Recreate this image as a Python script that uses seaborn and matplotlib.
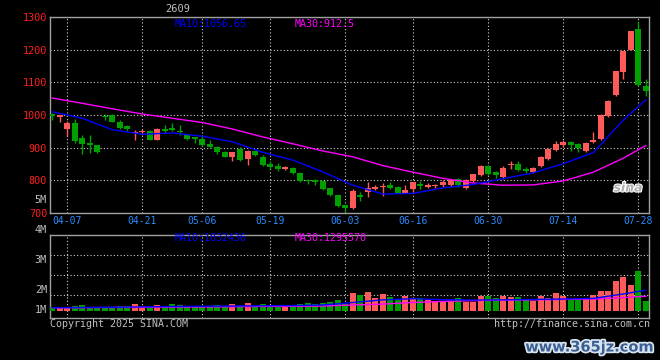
import numpy as np
import pandas as pd
import seaborn as sns
import matplotlib.pyplot as plt
import matplotlib.patheffects as pe

# trading days shown (MM-DD)
dates = ["04-02", "04-03", "04-07", "04-08", "04-09", "04-10", "04-11", "04-14", "04-15", "04-16",
         "04-17", "04-18", "04-21", "04-22", "04-23", "04-24", "04-25", "04-28", "04-29", "04-30",
         "05-06", "05-07", "05-08", "05-09", "05-12", "05-13", "05-14", "05-15", "05-16", "05-19",
         "05-20", "05-21", "05-22", "05-23", "05-26", "05-27", "05-28", "05-29", "05-30", "06-03",
         "06-04", "06-05", "06-06", "06-09", "06-10", "06-11", "06-12", "06-13", "06-16", "06-17",
         "06-18", "06-19", "06-20", "06-23", "06-24", "06-25", "06-26", "06-27", "06-30", "07-01",
         "07-02", "07-03", "07-04", "07-07", "07-08", "07-09", "07-10", "07-11", "07-14", "07-15",
         "07-16", "07-17", "07-18", "07-21", "07-22", "07-23", "07-24", "07-25", "07-28", "07-29"]

opens = [1002, 995, 956, 975, 930, 915, 907, 998, 999, 980,
         966, 945, 948, 952, 925, 957, 957, 951, 939, 931,
         928, 912, 903, 888, 872, 897, 864, 891, 872, 850,
         844, 835, 838, 823, 801, 800, 797, 776, 754, 723,
         715, 756, 764, 774, 779, 787, 779, 762, 774, 789,
         781, 782, 787, 787, 804, 778, 797, 815, 845, 824,
         810, 846, 849, 834, 826, 843, 864, 892, 907, 917,
         910, 890, 917, 928, 998, 1062, 1133, 1200, 1262, 1088]
closes = [997, 998, 975, 920, 910, 908, 887, 994, 980, 960,
          956, 948, 951, 925, 957, 952, 955, 947, 928, 928,
          909, 902, 888, 872, 886, 863, 891, 878, 848, 842,
          834, 840, 823, 798, 797, 796, 773, 754, 720, 716,
          768, 750, 776, 779, 784, 778, 761, 771, 794, 782,
          787, 786, 794, 802, 785, 802, 818, 845, 818, 816,
          838, 851, 833, 830, 838, 871, 897, 912, 917, 908,
          898, 915, 922, 1001, 1044, 1134, 1195, 1256, 1093, 1072]
highs = [1006, 1000, 983, 988, 940, 940, 908, 1002, 1004, 985,
         970, 955, 957, 955, 960, 968, 975, 970, 942, 933,
         935, 925, 905, 890, 888, 903, 893, 893, 878, 858,
         852, 843, 842, 826, 805, 803, 800, 778, 756, 725,
         772, 764, 794, 786, 792, 795, 782, 785, 796, 797,
         792, 790, 800, 803, 808, 804, 820, 847, 847, 830,
         845, 858, 858, 842, 840, 873, 899, 920, 922, 920,
         915, 917, 948, 1003, 1046, 1136, 1197, 1258, 1286, 1109]
lows = [985, 980, 935, 915, 880, 885, 883, 985, 978, 957,
        952, 925, 942, 922, 923, 945, 950, 940, 925, 915,
        905, 900, 881, 870, 858, 860, 847, 875, 845, 836,
        830, 833, 820, 795, 790, 785, 770, 752, 718, 703,
        713, 738, 750, 770, 752, 775, 760, 760, 764, 775,
        776, 777, 780, 784, 780, 775, 795, 813, 815, 806,
        805, 835, 828, 823, 823, 840, 862, 889, 902, 890,
        888, 887, 915, 925, 993, 1057, 1109, 1198, 1090, 1057]

# volume, millions
vol_m = [0.32, 0.32, 0.32, 0.44, 0.53, 0.32, 0.32, 0.32, 0.32, 0.44,
         0.44, 0.61, 0.44, 0.44, 0.53, 0.32, 0.61, 0.53, 0.32, 0.32,
         0.32, 0.44, 0.53, 0.44, 0.61, 0.44, 0.67, 0.44, 0.61, 0.32,
         0.32, 0.53, 0.53, 0.61, 0.73, 0.61, 0.73, 0.82, 0.96, 0.61,
         1.60, 1.40, 1.70, 1.17, 1.49, 1.20, 0.96, 1.34, 1.11, 1.17,
         0.96, 0.88, 0.88, 0.88, 1.11, 0.82, 0.82, 1.32, 1.32, 1.11,
         1.32, 1.20, 1.20, 0.96, 0.88, 1.32, 1.17, 1.58, 1.34, 1.05,
         1.05, 1.05, 1.40, 1.75, 1.75, 2.63, 2.98, 2.28, 3.50, 0.88]

# moving averages
ma_idx = [0, 4, 8, 12, 16, 20, 24, 28, 32, 36, 40, 44, 48, 52, 56, 60, 64, 68, 72, 76, 79]
ma10 = [1010, 990, 955, 941, 945, 935, 918, 886, 862, 826, 785, 758, 760, 777, 787, 805,
        823, 851, 885, 985, 1047]
ma30 = [1052, 1036, 1019, 1003, 990, 977, 957, 933, 912, 890, 872, 845, 825, 806, 792, 785,
        786, 798, 825, 868, 907]

vma_idx = [0, 8, 16, 24, 32, 36, 40, 44, 48, 52, 56, 60, 64, 68, 72, 76, 79]
vma10 = [0.29, 0.33, 0.40, 0.44, 0.48, 0.53, 0.75, 0.98, 1.08, 1.00, 0.96, 0.98, 1.02, 1.05,
         1.11, 1.50, 1.83]
vma30 = [0.29, 0.31, 0.35, 0.38, 0.42, 0.44, 0.53, 0.61, 0.75, 0.85, 0.91, 0.96, 0.98, 1.02,
         1.05, 1.18, 1.30]

tick_dates = ["04-07", "04-21", "05-06", "05-19", "06-03", "06-16", "06-30", "07-14", "07-28"]
price_ticks = [700, 800, 900, 1000, 1100, 1200, 1300]
vol_labels = ["4M", "3M", "2M", "1M"]

RED = "#ff5a5a"
GREEN = "#00a000"
GRAY = "#c0c0c0"
MONO = "DejaVu Sans Mono"

sns.set_theme(style="dark", rc={
    "figure.facecolor": "black", "axes.facecolor": "black",
    "axes.edgecolor": "#a0a0a0", "axes.linewidth": 1.0,
    "grid.color": "#d0d0d0", "grid.linestyle": (0, (1, 2)), "grid.linewidth": 0.8,
})
plt.rcParams["font.family"] = [MONO, "DejaVu Sans"]

df = pd.DataFrame({"date": dates, "open": opens, "close": closes,
                   "high": highs, "low": lows, "vol": vol_m})
df["i"] = np.arange(len(df))
df["dir"] = np.where(df["close"] >= df["open"], "up", "down")
colors = np.where(df["dir"] == "up", RED, GREEN)

fig = plt.figure(figsize=(6.6, 3.6), dpi=100)
W, H = 660, 360
ax = fig.add_axes([50 / W, 1 - 213 / H, 599 / W, 196 / H])
axv = fig.add_axes([50 / W, 1 - 318 / H, 599 / W, 83 / H])

# price panel
ax.vlines(df["i"], df["low"], df["high"], colors=colors, lw=1.0, zorder=3)
body = np.maximum((df["close"] - df["open"]).abs(), 4)
ax.bar(df["i"], body, bottom=np.minimum(df["open"], df["close"]),
       width=0.8, color=colors, linewidth=0, zorder=4)
sns.lineplot(x=ma_idx, y=ma30, color="#ff00ff", lw=1.0, ax=ax, zorder=5)
sns.lineplot(x=ma_idx, y=ma10, color="#0000ff", lw=1.0, ax=ax, zorder=5)

tick_pos = [dates.index(d) for d in tick_dates]
xlim = (-0.27, 79.4)
ax.set_xlim(*xlim)
ax.set_ylim(700, 1300)
ax.set_yticks(price_ticks)
ax.set_yticklabels([str(p) for p in price_ticks], color="#ff2020", fontsize=7.3)
ax.set_xticks(tick_pos)
ax.set_xticklabels(tick_dates, color="#2a8cff", fontsize=7.0)
ax.tick_params(length=0, pad=2)
ax.grid(True)
ax.set_xlabel("")
ax.set_ylabel("")

# volume panel
sns.barplot(data=df, x="i", y="vol", hue="dir", palette={"up": RED, "down": GREEN},
            native_scale=True, dodge=False, legend=False, width=0.8, linewidth=0,
            saturation=1, errorbar=None, ax=axv, zorder=3)
sns.lineplot(x=vma_idx, y=vma30, color="#ff00ff", lw=1.0, ax=axv, zorder=5)
sns.lineplot(x=vma_idx, y=vma10, color="#0000ff", lw=1.0, ax=axv, zorder=5)
axv.set_xlim(*xlim)
axv.set_ylim(-0.61, 6.67)
axv.set_xticks(tick_pos)
axv.set_xticklabels([])
axv.set_yticks([1.40, 3.16, 4.91])
axv.set_yticklabels([])
axv.tick_params(length=0)
axv.grid(True)
axv.set_xlabel("")
axv.set_ylabel("")


def px_text(x, y, s, color, size=7.2, ha="left", **kw):
    fig.text(x / W, 1 - y / H, s, color=color, fontsize=size, ha=ha, va="center", **kw)


px_text(165, 9, "2609", GRAY, size=7.5)
px_text(175, 24, "MA10:1056.65", "#0000ff")
px_text(295, 24, "MA30:912.5", "#ff00ff")
px_text(175, 238, "MA10:1832436", "#0000ff")
px_text(295, 238, "MA30:1295570", "#ff00ff")
px_text(47, 200, "5M", GRAY, size=7.3, ha="right")
for lbl, yy in zip(vol_labels, [230, 260, 290, 310]):
    px_text(47, yy, lbl, GRAY, size=7.3, ha="right")
px_text(50, 324, "Copyright 2025 SINA.COM", GRAY)
px_text(650, 324, "http://finance.sina.com.cn", GRAY, ha="right")

# watermarks
fig.text(628 / W, 1 - 188 / H, "sina", color="#b0b0b0", fontsize=9, ha="center",
         va="center", style="italic", weight="bold", family="DejaVu Sans",
         path_effects=[pe.withStroke(linewidth=1.5, foreground="#ffffff")])
fig.text(654 / W, 1 - 347 / H, "www.365jz.com", color="#3b5f93", fontsize=10.5,
         ha="right", va="center", weight="bold", family="DejaVu Sans",
         path_effects=[pe.withStroke(linewidth=2.5, foreground="#d8e4f0")])

fig.savefig("out.png", dpi=100, facecolor="black")
